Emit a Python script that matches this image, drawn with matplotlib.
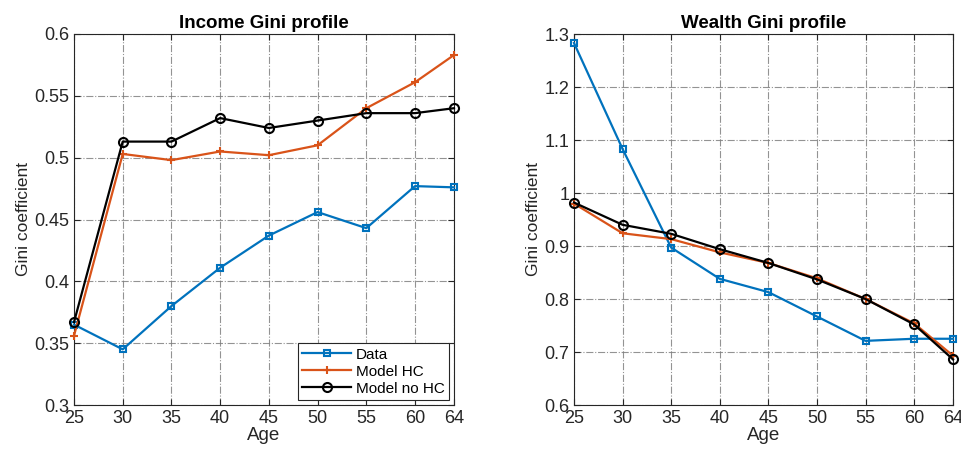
import matplotlib.pyplot as plt

plt.rcParams['font.family'] = ['Liberation Sans', 'DejaVu Sans']

ages = [25, 30, 35, 40, 45, 50, 55, 60, 64]

income_data = [0.365, 0.345, 0.380, 0.411, 0.437, 0.456, 0.443, 0.477, 0.476]
income_hc = [0.356, 0.503, 0.498, 0.505, 0.502, 0.510, 0.540, 0.561, 0.583]
income_nohc = [0.367, 0.513, 0.513, 0.532, 0.524, 0.530, 0.536, 0.536, 0.540]

wealth_data = [1.283, 1.083, 0.897, 0.838, 0.813, 0.767, 0.721, 0.725, 0.725]
wealth_hc = [0.980, 0.924, 0.913, 0.888, 0.868, 0.839, 0.800, 0.754, 0.693]
wealth_nohc = [0.982, 0.940, 0.923, 0.894, 0.868, 0.837, 0.800, 0.752, 0.686]

blue = '#0072BD'
orange = '#D95319'


def draw_panel(ax, data, hc, nohc, title, ylim, yticks, yticklabels):
    ax.plot(ages, data, '-s', color=blue, lw=1.6, ms=5, mfc='none', mew=1.5,
            label='Data', clip_on=False, zorder=3)
    ax.plot(ages, hc, '-+', color=orange, lw=1.6, ms=6, mew=1.5,
            label='Model HC', clip_on=False, zorder=3)
    ax.plot(ages, nohc, '-o', color='black', lw=1.6, ms=6.5, mfc='none', mew=1.5,
            label='Model no HC', clip_on=False, zorder=3)
    ax.set_xlim(25, 64)
    ax.set_ylim(*ylim)
    ax.set_xticks(ages)
    ax.set_yticks(yticks)
    ax.set_yticklabels(yticklabels)
    ax.grid(True, ls='-.', color='#808080', lw=0.8, alpha=0.85)
    ax.tick_params(direction='in', top=True, right=True, labelsize=13, colors='#262626', length=4)
    for sp in ax.spines.values():
        sp.set_color('#262626')
        sp.set_linewidth(0.8)
    ax.set_title(title, fontsize=13.5, fontweight='bold', pad=4)
    ax.set_xlabel('Age', fontsize=13.5, color='#262626', labelpad=0)
    ax.set_ylabel('Gini coefficient', fontsize=12.5, color='#262626', labelpad=2)


fig = plt.figure(figsize=(9.61, 4.5), dpi=100)
ax1 = fig.add_axes([74 / 961, 45 / 450, 380 / 961, 371 / 450])
ax2 = fig.add_axes([574 / 961, 45 / 450, 379 / 961, 371 / 450])

draw_panel(ax1, income_data, income_hc, income_nohc, 'Income Gini profile',
           (0.3, 0.6), [0.3, 0.35, 0.4, 0.45, 0.5, 0.55, 0.6],
           ['0.3', '0.35', '0.4', '0.45', '0.5', '0.55', '0.6'])
draw_panel(ax2, wealth_data, wealth_hc, wealth_nohc, 'Wealth Gini profile',
           (0.6, 1.3), [0.6, 0.7, 0.8, 0.9, 1.0, 1.1, 1.2, 1.3],
           ['0.6', '0.7', '0.8', '0.9', '1', '1.1', '1.2', '1.3'])

leg = ax1.legend(loc='lower right', fontsize=11, frameon=True, fancybox=False,
                 borderaxespad=0.3, handlelength=3.2, labelspacing=0.2,
                 borderpad=0.3, handletextpad=0.3)
leg.get_frame().set_edgecolor('#262626')
leg.get_frame().set_linewidth(0.8)
leg.get_frame().set_alpha(1)
leg.set_zorder(5)

fig.savefig('out.png', dpi=100)
